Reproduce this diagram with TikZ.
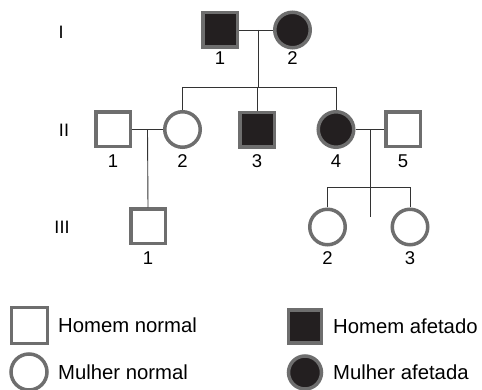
\documentclass[tikz,border=0pt]{standalone}
\usepackage{fontspec}
\setmainfont{Liberation Sans}
\definecolor{edgegray}{HTML}{6E6E6E}
\definecolor{affblack}{HTML}{231F20}
\begin{document}
\begin{tikzpicture}[x=1pt,y=-1pt,
  male/.style={rectangle,draw=edgegray,line width=3.5pt,minimum size=34.5pt,inner sep=0pt,fill=white},
  female/.style={circle,draw=edgegray,line width=3.5pt,minimum size=35.5pt,inner sep=0pt,fill=white},
  affected/.style={fill=affblack},
  num/.style={font=\fontsize{18.5}{20}\selectfont,inner sep=0pt},
  gen/.style={font=\fontsize{18}{20}\selectfont,inner sep=0pt},
  legtext/.style={font=\fontsize{20.3}{22}\selectfont,anchor=west,inner sep=0pt},
  link/.style={draw=black!80,line width=0.9pt}]
\useasboundingbox (0,0) rectangle (482,390);
% Generation labels
\node[gen] (gI) at (61,32) {I};
\node[gen] (gII) at (64,130) {II};
\node[gen] (gIII) at (62,227) {III};
% Generation I
\node[male,affected] (I1) at (220,30) {};
\node[female,affected] (I2) at (292.5,30) {};
\node[num] (lI1) at (220,58) {1};
\node[num] (lI2) at (292.5,58) {2};
% Generation II
\node[male] (II1) at (113,129.5) {};
\node[female] (II2) at (182.5,129.5) {};
\node[male,affected] (II3) at (257,130) {};
\node[female,affected] (II4) at (336,129.5) {};
\node[male] (II5) at (403,129.5) {};
\node[num] (lII1) at (113,161) {1};
\node[num] (lII2) at (182.5,161) {2};
\node[num] (lII3) at (257,161) {3};
\node[num] (lII4) at (336,161) {4};
\node[num] (lII5) at (403,161) {5};
% Generation III
\node[male] (III1) at (148,226.5) {};
\node[female] (III2) at (327.5,227) {};
\node[female] (III3) at (410,227) {};
\node[num] (lIII1) at (148,258) {1};
\node[num] (lIII2) at (327.5,258) {2};
\node[num] (lIII3) at (410,258) {3};
% Connector coordinates
\coordinate (m1) at (258.5,30);
\coordinate (s1) at (258.5,87);
\coordinate (s1a) at (182.5,87);
\coordinate (s1b) at (257,87);
\coordinate (s1c) at (336,87);
\coordinate (m2) at (147.5,130);
\coordinate (m3) at (370,129.5);
\coordinate (s3) at (370,187.5);
\coordinate (s3a) at (327.5,187.5);
\coordinate (s3b) at (410,187.5);
\coordinate (s3end) at (370,217);
% Connectors
\draw[link] (I1.east) -- (I2.west);
\draw[link] (m1) -- (s1);
\draw[link] (s1a) -- (s1c);
\draw[link] (s1a) -- (II2.north);
\draw[link] (s1b) -- (II3.north);
\draw[link] (s1c) -- (II4.north);
\draw[link] (II1.east) -- (II2.west);
\draw[link] (m2) -- (III1.north);
\draw[link] (II4.east) -- (II5.west);
\draw[link] (m3) -- (s3);
\draw[link] (s3a) -- (s3b);
\draw[link] (s3a) -- (III2.north);
\draw[link] (s3b) -- (III3.north);
\draw[link] (s3) -- (s3end);
% Legend
\node[male,minimum size=36pt] (L1) at (29.5,325.5) {};
\node[legtext] (L1t) at (58,325.5) {Homem normal};
\node[female,minimum size=36pt] (L2) at (29,372) {};
\node[legtext] (L2t) at (58,372) {Mulher normal};
\node[male,affected,minimum size=33pt] (L3) at (305,326.5) {};
\node[legtext] (L3t) at (333,326.5) {Homem afetado};
\node[female,affected,minimum size=33pt] (L4) at (305,372.5) {};
\node[legtext] (L4t) at (333,372.5) {Mulher afetada};
\end{tikzpicture}
\end{document}
